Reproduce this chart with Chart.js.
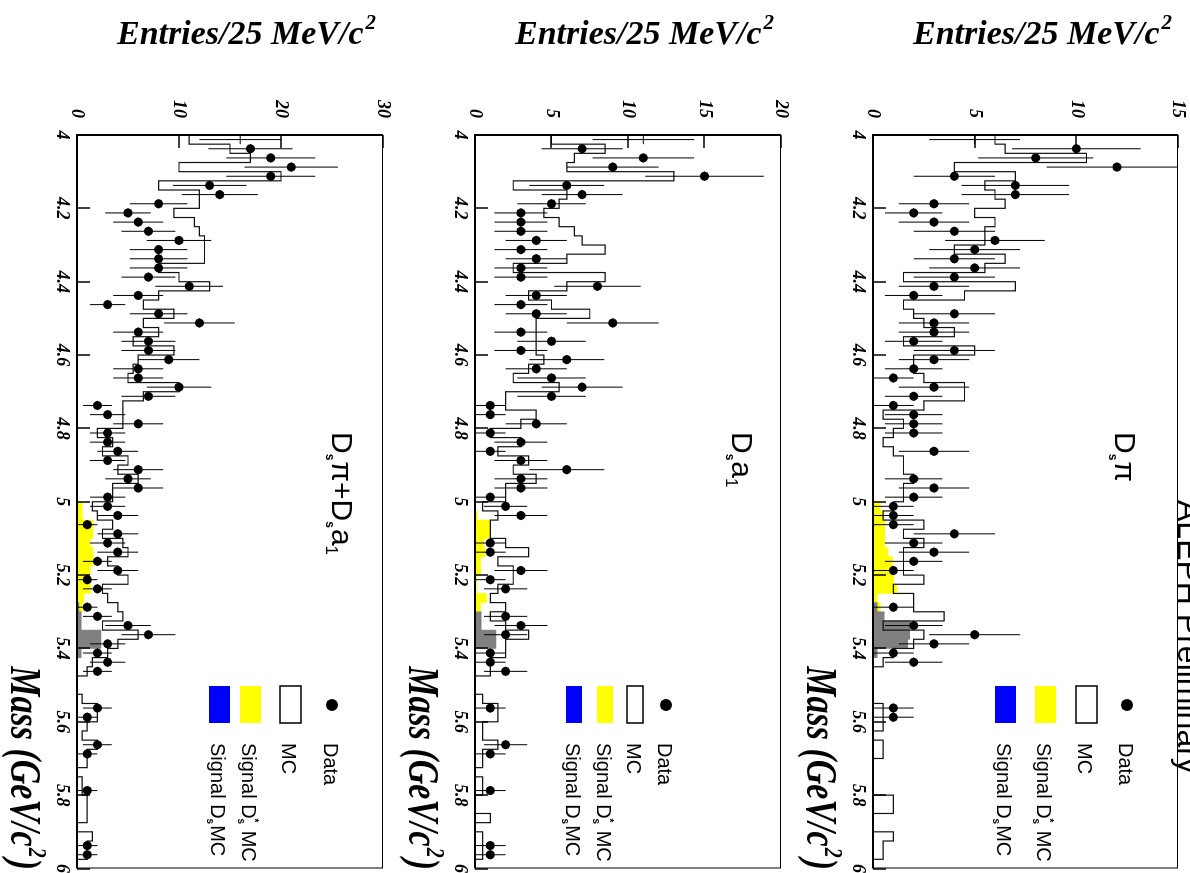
<!DOCTYPE html>
<html>
<head>
<meta charset="utf-8">
<script src="https://cdn.jsdelivr.net/npm/chart.js@4.4.1/dist/chart.umd.min.js"></script>
<style>
  html, body { margin: 0; padding: 0; background: #fff; overflow: hidden; width: 1190px; height: 873px; }
  /* the figure is drawn upright (873 x 1190) and turned a quarter clockwise */
  #page { position: absolute; left: 0; top: 0; width: 873px; height: 1190px;
          transform-origin: 0 0; transform: translate(1190px, 0) rotate(90deg); }
  .panel { position: absolute; left: 0; width: 873px; }
</style>
</head>
<body>
<div id="page">
  <div class="panel" style="top:0;height:398px"><canvas id="c1" width="873" height="398"></canvas></div>
  <div class="panel" style="top:398px;height:398px"><canvas id="c2" width="873" height="398"></canvas></div>
  <div class="panel" style="top:796px;height:394px"><canvas id="c3" width="873" height="394"></canvas></div>
</div>
<script>
// mass bins: 25 MeV from 4.0 to 6.0 GeV
const MASS_MIN = 4.0;
const MASS_MAX = 6.0;
const BIN_WIDTH = 0.025;
const MASS_EDGES = Array.from({ length: 81 }, (_, i) => +(MASS_MIN + i * BIN_WIDTH).toFixed(4));
const MASS_CENTRES = MASS_EDGES.slice(0, 80).map((e) => +(e + BIN_WIDTH / 2).toFixed(4));
const MASS_TICKS = [4, 4.2, 4.4, 4.6, 4.8, 5, 5.2, 5.4, 5.6, 5.8, 6];
const MASS_TICK_LABELS = ['4', '4.2', '4.4', '4.6', '4.8', '5', '5.2', '5.4', '5.6', '5.8', '6'];

// ---- Ds pi ----
const DSPI_DATA = [
  5, 10, 8, 12, 4, 7, 7, 3, 2, 3,
  4, 6, 5, 4, 5, 4, 3, 2, 0, 4,
  3, 3, 2, 4, 3, 2, 1, 3, 2, 1,
  2, 2, 2, 0, 3, 0, 0, 2, 3, 2,
  1, 1, 1, 4, 2, 3, 2, 1, 0, 0,
  0, 1, 0, 2, 5, 3, 1, 2, 0, 0,
  0, 0, 1, 1, 0, 0, 0, 0, 0, 0,
  0, 0, 0, 0, 0, 0, 0, 0, 0, 0];
const DSPI_MC = [
  6, 6.5, 10.5, 4, 7, 5.5, 6, 6.5, 5, 6,
  5.5, 5.5, 4, 6.5, 5.5, 1.5, 7, 4.5, 1.5, 2,
  2.5, 4, 1.5, 5, 2, 2, 2.5, 4.5, 4.5, 2.5,
  0.5, 1.5, 1, 0.5, 1, 1.5, 1.5, 2, 1.5, 1.5,
  1, 0.5, 2.5, 1.5, 2.5, 1.5, 1.5, 1.5, 2.5, 1,
  2, 2, 3.5, 0.5, 2.5, 2, 1, 0.5, 0, 0,
  0, 0, 0.5, 0.5, 0.5, 0, 0.5, 0.5, 0, 0,
  0, 0, 1, 1, 0, 0, 1, 0.5, 0.5, 0];
const DSPI_SIG_DSSTAR = [
  0, 0, 0, 0, 0, 0, 0, 0, 0, 0,
  0, 0, 0, 0, 0, 0, 0, 0, 0, 0,
  0, 0, 0, 0, 0, 0, 0, 0, 0, 0,
  0, 0, 0, 0, 0, 0, 0, 0, 0, 0,
  0.35, 0.5, 0.57, 0.57, 0.57, 0.73, 0.95, 0.95, 1.0, 1.18,
  0.2, 0.35, 0, 0, 0, 0, 0, 0, 0, 0,
  0, 0, 0, 0, 0, 0, 0, 0, 0, 0,
  0, 0, 0, 0, 0, 0, 0, 0, 0, 0];
const DSPI_SIG_DS = [
  0, 0, 0, 0, 0, 0, 0, 0, 0, 0,
  0, 0, 0, 0, 0, 0, 0, 0, 0, 0,
  0, 0, 0, 0, 0, 0, 0, 0, 0, 0,
  0, 0, 0, 0, 0, 0, 0, 0, 0, 0,
  0, 0, 0, 0, 0, 0, 0, 0, 0, 0,
  0, 0.2, 0.55, 1.8, 1.8, 1.7, 0.2, 0, 0, 0,
  0, 0, 0, 0, 0, 0, 0, 0, 0, 0,
  0, 0, 0, 0, 0, 0, 0, 0, 0, 0];

// ---- Ds a1 ----
const DSA1_DATA = [
  11, 7, 11, 9, 15, 6, 7, 5, 3, 3,
  3, 4, 3, 4, 3, 3, 8, 4, 3, 4,
  9, 3, 5, 3, 6, 4, 5, 7, 5, 1,
  1, 4, 1, 3, 1, 3, 6, 3, 3, 1,
  2, 3, 0, 0, 1, 1, 0, 3, 1, 2,
  0, 0, 2, 3, 2, 0, 1, 1, 2, 0,
  0, 0, 1, 0, 0, 0, 2, 1, 0, 0,
  0, 1, 0, 0, 0, 0, 0, 1, 1, 0];
const DSA1_MC = [
  5, 8.5, 6.5, 6, 13, 2.5, 6, 5.5, 4.5, 5.5,
  6.5, 7, 8.5, 6, 2.5, 8.5, 6, 3.5, 5, 7.5,
  4, 4, 4, 4, 4.5, 3.5, 2.5, 5.5, 2, 2,
  4, 3, 1, 3, 1.5, 3.5, 2.5, 4, 2, 2,
  0.5, 1.5, 1, 1, 2, 3.5, 1.5, 2.5, 2.5, 1.5,
  1, 2, 1, 2, 3.5, 2, 2, 1, 1, 0,
  0, 0.5, 1.5, 1.5, 0.5, 0.5, 1.5, 0.5, 0.5, 0,
  0.5, 0.5, 0, 0, 1, 0, 0.5, 0.5, 0.5, 0];
const DSA1_SIG_DSSTAR = [
  0, 0, 0, 0, 0, 0, 0, 0, 0, 0,
  0, 0, 0, 0, 0, 0, 0, 0, 0, 0,
  0, 0, 0, 0, 0, 0, 0, 0, 0, 0,
  0, 0, 0, 0, 0, 0, 0, 0, 0, 0,
  0, 0.15, 1.0, 1.0, 0.55, 0.65, 0.35, 0.37, 0.1, 0.1,
  0.75, 0.35, 0, 0, 0, 0, 0, 0, 0, 0,
  0, 0, 0, 0, 0, 0, 0, 0, 0, 0,
  0, 0, 0, 0, 0, 0, 0, 0, 0, 0];
const DSA1_SIG_DS = [
  0, 0, 0, 0, 0, 0, 0, 0, 0, 0,
  0, 0, 0, 0, 0, 0, 0, 0, 0, 0,
  0, 0, 0, 0, 0, 0, 0, 0, 0, 0,
  0, 0, 0, 0, 0, 0, 0, 0, 0, 0,
  0, 0, 0, 0, 0, 0, 0, 0, 0, 0,
  0, 0, 0.4, 0.4, 1.37, 1.37, 0, 0, 0, 0,
  0, 0, 0, 0, 0, 0, 0, 0, 0, 0,
  0, 0, 0, 0, 0, 0, 0, 0, 0, 0];

// ---- Ds pi + Ds a1 ----
const SUM_DATA = [
  16, 17, 19, 21, 19, 13, 14, 8, 5, 6,
  7, 10, 8, 8, 8, 7, 11, 6, 3, 8,
  12, 6, 7, 7, 9, 6, 6, 10, 7, 2,
  3, 6, 3, 3, 4, 3, 6, 5, 6, 3,
  3, 4, 1, 4, 3, 4, 2, 4, 1, 2,
  0, 1, 2, 5, 7, 3, 2, 3, 2, 0,
  0, 0, 2, 1, 0, 0, 2, 1, 0, 0,
  0, 1, 0, 0, 0, 0, 0, 1, 1, 0];
const SUM_MC = [
  11, 15, 17, 10, 20, 8, 12, 12, 9.5, 11.5,
  12, 12.5, 12.5, 12.5, 8, 10, 13, 8, 6.5, 9.5,
  6.5, 8, 5.5, 9.5, 6, 5.5, 5, 10, 6.5, 4.5,
  4.5, 4.5, 2, 3.5, 2.5, 5, 4, 6, 3.5, 3.5,
  1.5, 2, 3.5, 2.5, 4.5, 5, 3, 4, 5, 2.5,
  3, 4, 4.5, 2.5, 6, 4, 3, 1.5, 1, 0,
  0, 0.5, 2, 2, 1, 0.5, 2, 1, 1, 0,
  0.5, 0.5, 1, 1, 1, 0, 1.5, 1, 1, 0];
const SUM_SIG_DSSTAR = [
  0, 0, 0, 0, 0, 0, 0, 0, 0, 0,
  0, 0, 0, 0, 0, 0, 0, 0, 0, 0,
  0, 0, 0, 0, 0, 0, 0, 0, 0, 0,
  0, 0, 0, 0, 0, 0, 0, 0, 0, 0,
  0.5, 0.5, 1.57, 1.57, 1.3, 1.57, 1.57, 1.3, 1.0, 1.3,
  0.65, 0.5, 0, 0, 0, 0, 0, 0, 0, 0,
  0, 0, 0, 0, 0, 0, 0, 0, 0, 0,
  0, 0, 0, 0, 0, 0, 0, 0, 0, 0];
const SUM_SIG_DS = [
  0, 0, 0, 0, 0, 0, 0, 0, 0, 0,
  0, 0, 0, 0, 0, 0, 0, 0, 0, 0,
  0, 0, 0, 0, 0, 0, 0, 0, 0, 0,
  0, 0, 0, 0, 0, 0, 0, 0, 0, 0,
  0, 0, 0, 0, 0, 0, 0, 0, 0, 0,
  0, 0.2, 0.4, 0.4, 2.35, 2.35, 0.4, 0, 0, 0,
  0, 0, 0, 0, 0, 0, 0, 0, 0, 0,
  0, 0, 0, 0, 0, 0, 0, 0, 0, 0];

// first bin: error bar drawn, marker missing in the original
const NO_MARKER_BINS = [0];

const SERIF = "'Liberation Serif', 'Times New Roman', serif";
const SANS = "'Liberation Sans', Arial, sans-serif";
const YELLOW = '#ffff00';
const GREY = '#808080';
const BLUE = '#0000ff';

// panel layout in upright coordinates (canvas-local)
const PANELS = [
  {
    id: 'c1', height: 398, top: 12, yMax: 15, yTicks: [0, 5, 10, 15],
    data: DSPI_DATA, mc: DSPI_MC, sigStar: DSPI_SIG_DSSTAR, sigDs: DSPI_SIG_DS,
    label: [['D', 'big'], ['s', 'sub'], ['\u03c0', 'big']], labelY: 75,
    legend: { dataY: 63, rows: [103.5, 144.5, 184.5], boxH: 21, textDy: 8 },
    aleph: true,
  },
  {
    id: 'c2', height: 398, top: 11, yMax: 20, yTicks: [0, 5, 10, 15, 20],
    data: DSA1_DATA, mc: DSA1_MC, sigStar: DSA1_SIG_DSSTAR, sigDs: DSA1_SIG_DS,
    label: [['D', 'big'], ['s', 'sub'], ['a', 'big'], ['1', 'sub1']], labelY: 60,
    legend: { dataY: 126, rows: [157, 187, 218], boxH: 16, textDy: 8 },
  },
  {
    id: 'c3', height: 394, top: 11, yMax: 30, yTicks: [0, 10, 20, 30],
    data: SUM_DATA, mc: SUM_MC, sigStar: SUM_SIG_DSSTAR, sigDs: SUM_SIG_DS,
    label: [['D', 'big'], ['s', 'sub'], ['\u03c0', 'big'], ['+', 'big'], ['D', 'big'], ['s', 'sub'], ['a', 'big'], ['1', 'sub1']],
    labelY: 62,
    legend: { dataY: 62, rows: [103.5, 143.5, 174.5], boxH: 21, textDy: 8 },
  },
];

const PLOT_LEFT = 135;
const PLOT_RIGHT = 870;
const PLOT_BOTTOM = 317;

function drawRich(ctx, parts, x, y, sizes) {
  // parts: [text, kind]; 'over' kinds are stacked above the previous piece
  let lastX = x;
  for (const [t, kind] of parts) {
    const s = sizes[kind];
    ctx.font = s.font;
    if (s.over) {
      ctx.fillText(t, lastX, y + s.dy);
      x = Math.max(x, lastX + ctx.measureText(t).width + (s.gap || 0));
      continue;
    }
    lastX = x;
    ctx.fillText(t, x, y + s.dy);
    x += ctx.measureText(t).width + (s.gap || 0);
  }
  return x;
}

function makePlugin(p) {
  return {
    id: 'paw',
    beforeDatasetDraw(chart, args) {
      if (args.index !== 0) return;
      const { ctx, chartArea: a, scales: { x, y } } = chart;
      ctx.save();
      ctx.beginPath();
      ctx.rect(a.left, a.top, a.right - a.left, a.bottom - a.top);
      ctx.clip();
      ctx.strokeStyle = '#000';
      ctx.lineWidth = 1;
      p.data.forEach((v, i) => {
        if (!v) return;
        const px = x.getPixelForValue(MASS_CENTRES[i]);
        const err = Math.sqrt(v);
        ctx.beginPath();
        ctx.moveTo(px, y.getPixelForValue(v - err));
        ctx.lineTo(px, y.getPixelForValue(v + err));
        const py = y.getPixelForValue(v);
        ctx.moveTo(x.getPixelForValue(MASS_EDGES[i]), py);
        ctx.lineTo(x.getPixelForValue(MASS_EDGES[i + 1]), py);
        ctx.stroke();
      });
      ctx.restore();
    },
    afterDraw(chart) {
      const { ctx, chartArea: a, scales: { x, y } } = chart;
      ctx.save();
      // frame
      ctx.strokeStyle = '#000';
      ctx.lineWidth = 1;
      ctx.strokeRect(a.left + 0.5, a.top + 0.5, a.right - a.left - 1, a.bottom - a.top - 1);
      ctx.lineWidth = 2;
      ctx.beginPath();
      ctx.moveTo(a.left, a.top);
      ctx.lineTo(a.left, a.bottom);
      ctx.lineTo(a.right, a.bottom);
      ctx.stroke();
      // inward ticks
      ctx.lineWidth = 1.5;
      ctx.beginPath();
      for (const m of MASS_TICKS) {
        const px = Math.round(x.getPixelForValue(m));
        ctx.moveTo(px, a.bottom);
        ctx.lineTo(px, a.bottom - 13);
      }
      for (const t of p.yTicks) {
        const py = Math.round(y.getPixelForValue(t));
        ctx.moveTo(a.left, py);
        ctx.lineTo(a.left + 13, py);
      }
      ctx.stroke();

      ctx.fillStyle = '#000';
      // y title (reads upwards)
      ctx.save();
      ctx.translate(44, 18);
      ctx.rotate(-Math.PI / 2);
      ctx.font = `italic bold 34px ${SERIF}`;
      const t1 = 'Entries/25 MeV/c';
      const w1 = ctx.measureText(t1).width;
      ctx.font = `italic bold 21px ${SERIF}`;
      const w2 = ctx.measureText('2').width;
      ctx.font = `italic bold 34px ${SERIF}`;
      ctx.fillText(t1, -(w1 + w2 + 2), 0);
      ctx.font = `italic bold 21px ${SERIF}`;
      ctx.fillText('2', -w2, -15);
      ctx.restore();

      // x title, stretched vertically like the original
      ctx.save();
      ctx.translate(PLOT_RIGHT, 383);
      ctx.scale(1, 1.3);
      ctx.font = `italic bold 34px ${SERIF}`;
      const m1 = 'Mass (GeV/c';
      const m3 = ')';
      const mw1 = ctx.measureText(m1).width;
      const mw3 = ctx.measureText(m3).width;
      ctx.font = `italic bold 20px ${SERIF}`;
      const mw2 = ctx.measureText('2').width + 2;
      const x0 = -(mw1 + mw2 + mw3);
      ctx.font = `italic bold 34px ${SERIF}`;
      ctx.fillText(m1, x0, 0);
      ctx.fillText(m3, x0 + mw1 + mw2, 0);
      ctx.font = `italic bold 20px ${SERIF}`;
      ctx.fillText('2', x0 + mw1 + 1, -14);
      ctx.restore();

      // channel label
      const sizes = {
        big: { font: `30px ${SANS}`, dy: 0 },
        sub: { font: `bold 12px ${SANS}`, dy: 6, gap: 1 },
        sub1: { font: `17px ${SANS}`, dy: 6 },
      };
      drawRich(ctx, p.label, 432, p.labelY, sizes);

      // legend
      const L = p.legend;
      const bx = 686, bw = 37;
      ctx.beginPath();
      ctx.arc(705, L.dataY, 6, 0, Math.PI * 2);
      ctx.fill();
      ctx.lineWidth = 1.5;
      ctx.strokeRect(bx, L.rows[0] - L.boxH / 2, bw, L.boxH);
      ctx.fillStyle = YELLOW;
      ctx.fillRect(bx, L.rows[1] - L.boxH / 2, bw, L.boxH);
      ctx.fillStyle = BLUE;
      ctx.fillRect(bx, L.rows[2] - L.boxH / 2, bw, L.boxH);
      ctx.fillStyle = '#000';
      const lsizes = {
        big: { font: `20px ${SANS}`, dy: 0 },
        sub: { font: `bold 10px ${SANS}`, dy: 4, gap: 1 },
        sup: { font: `bold 10px ${SANS}`, dy: -9, gap: 1, over: true },
      };
      drawRich(ctx, [['Data', 'big']], 743, L.dataY + L.textDy, lsizes);
      drawRich(ctx, [['MC', 'big']], 743, L.rows[0] + L.textDy, lsizes);
      drawRich(ctx, [['Signal D', 'big'], ['s', 'sub'], ['*', 'sup'], [' MC', 'big']], 743, L.rows[1] + L.textDy, lsizes);
      drawRich(ctx, [['Signal D', 'big'], ['s', 'sub'], ['MC', 'big']], 743, L.rows[2] + L.textDy, lsizes);

      if (p.aleph) {
        ctx.font = `32px ${SANS}`;
        ctx.fillText('ALEPH Preliminary', 500, 12);
      }
      ctx.restore();
    },
  };
}

function buildChart(p) {
  const points = [];
  p.data.forEach((v, i) => { if (v > 0) points.push({ x: MASS_CENTRES[i], y: v, bin: i }); });
  const mcLine = MASS_EDGES.map((e, i) => ({ x: e, y: p.mc[Math.min(i, 79)] }));
  const bars = (arr) => arr.map((v, i) => ({ x: MASS_CENTRES[i], y: v }));
  const tickFont = { family: SERIF, size: 18, style: 'italic', weight: 'bold' };

  return new Chart(document.getElementById(p.id), {
    type: 'line',
    data: {
      datasets: [
        {
          type: 'line', label: 'Data', data: points, showLine: false,
          pointRadius: points.map((pt) => (NO_MARKER_BINS.includes(pt.bin) ? 0 : 4.5)),
          pointBackgroundColor: '#000', pointBorderWidth: 0,
        },
        {
          type: 'line', label: 'MC', data: mcLine, stepped: 'before',
          borderColor: '#111', borderWidth: 1.2, pointRadius: 0, fill: false,
        },
        {
          type: 'bar', label: 'Signal Ds MC', data: bars(p.sigDs), backgroundColor: GREY,
          barPercentage: 1, categoryPercentage: 1, grouped: false, borderWidth: 0,
        },
        {
          type: 'bar', label: 'Signal Ds* MC', data: bars(p.sigStar), backgroundColor: YELLOW,
          barPercentage: 1, categoryPercentage: 1, grouped: false, borderWidth: 0,
        },
      ],
    },
    options: {
      responsive: false,
      animation: false,
      devicePixelRatio: 1,
      layout: { padding: { left: 0, right: 873 - PLOT_RIGHT, top: p.top, bottom: 0 } },
      plugins: { legend: { display: false }, tooltip: { enabled: false } },
      scales: {
        x: {
          type: 'linear', min: MASS_MIN, max: MASS_MAX, offset: false,
          grid: { display: false, drawTicks: false }, border: { display: false },
          afterBuildTicks: (s) => { s.ticks = MASS_TICKS.map((v) => ({ value: v })); },
          afterFit: (s) => { s.height = p.height - PLOT_BOTTOM; s.paddingLeft = 0; s.paddingRight = 0; },
          ticks: {
            autoSkip: false, maxRotation: 0, minRotation: 0, padding: 5, color: '#000', font: tickFont,
            callback: (v) => MASS_TICK_LABELS[MASS_TICKS.indexOf(+v.toFixed(1))] ?? '',
          },
        },
        y: {
          type: 'linear', min: 0, max: p.yMax,
          grid: { display: false, drawTicks: false }, border: { display: false },
          afterBuildTicks: (s) => { s.ticks = p.yTicks.map((v) => ({ value: v })); },
          afterFit: (s) => { s.width = PLOT_LEFT; s.paddingTop = 0; s.paddingBottom = 0; },
          ticks: { padding: 17, color: '#000', font: tickFont },
        },
      },
    },
    plugins: [makePlugin(p)],
  });
}

PANELS.forEach(buildChart);
</script>
</body>
</html>
